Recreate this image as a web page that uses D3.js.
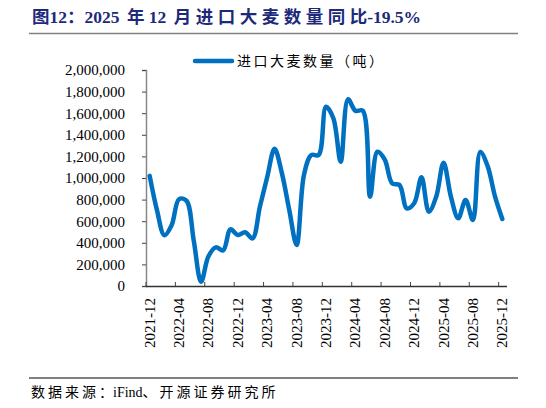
<!DOCTYPE html>
<html lang="zh">
  <head>
    <meta charset="UTF-8" />
    <title>进口大麦数量</title>
    <script src="https://d3js.org/d3.v7.min.js"></script>
    <style>
      body { margin: 0; background: #fff; }
      text, tspan { white-space: pre; }
    </style>
  </head>
  <body>
    <div id="chart"></div>
    <script>
      // months 2021-12 .. 2025-12
      var months = [];
      for (var k = 0; k < 49; k++) {
        var yr = 2021 + Math.floor((11 + k) / 12);
        var mo = ((11 + k) % 12) + 1;
        months.push(yr + "-" + (mo < 10 ? "0" + mo : mo));
      }

      // 进口大麦数量（吨）
      var volumes = [
        1020000, 700000, 470000, 565000, 805000, 790000, 420000, 40000,
        275000, 358000, 330000, 525000, 472000, 497000, 441000, 734000,
        1010000, 1270000, 1043000, 704000, 380000, 1028000, 1213000, 1213000,
        1660000, 1553000, 1151000, 1729000, 1623000, 1623000, 827000, 1243000,
        1170000, 951000, 935000, 719000, 766000, 1006000, 688000, 827000,
        1142000, 827000, 627000, 796000, 611000, 1240000, 1110000, 830000,
        620000,
      ];

      var yTicks = [0, 200000, 400000, 600000, 800000, 1000000, 1200000,
        1400000, 1600000, 1800000, 2000000];

      var seriesName = "进口大麦数量（吨）";

      var width = 546;
      var height = 408;
      var serif = "'Liberation Serif', 'Times New Roman', serif";
      var cjk = "'Noto Sans CJK SC', sans-serif";

      var svg = d3
        .select("#chart")
        .append("svg")
        .attr("width", width)
        .attr("height", height);

      // split a string into CJK / latin runs; CJK chars get extra gap between them
      var cjkRe = /[\u3000-\u9fff\uff00-\uffef]/;
      function mixedText(sel, str, latinSize, cjkSize, gap) {
        var runs = str.match(/[\u3000-\u9fff\uff00-\uffef]+|[^\u3000-\u9fff\uff00-\uffef]+/g);
        runs.forEach(function (r, ri) {
          if (cjkRe.test(r)) {
            var afterSpace = ri > 0 && / $/.test(runs[ri - 1]);
            r.split("").forEach(function (ch, j) {
              sel
                .append("tspan")
                .attr("dx", j > 0 ? gap : afterSpace ? 3 : 0)
                .style("font-family", cjk)
                .style("font-size", cjkSize + "px")
                .text(ch);
            });
          } else {
            sel
              .append("tspan")
              .style("font-family", serif)
              .style("font-size", latinSize + "px")
              .text(r.replace(/ /g, "\u00a0"));
          }
        });
      }

      // title
      var title = svg
        .append("text")
        .attr("x", 32)
        .attr("y", 23)
        .style("font-weight", "bold")
        .attr("fill", "#1d2a7a");
      mixedText(title, "图12：2025 年 12 月进口大麦数量同比-19.5%", 17.5, 17.5, 4.5);

      svg
        .append("line")
        .attr("x1", 29)
        .attr("x2", 518)
        .attr("y1", 33.5)
        .attr("y2", 33.5)
        .attr("stroke", "#808080")
        .attr("stroke-width", 1.5);

      var x = d3
        .scaleBand()
        .domain(months)
        .range([146, 506])
        .paddingInner(0)
        .paddingOuter(0);

      var y = d3.scaleLinear().domain([0, 2000000]).range([286, 70]);

      // y axis
      var yAxis = svg
        .append("g")
        .attr("transform", "translate(146,0)")
        .call(
          d3
            .axisLeft(y)
            .tickValues(yTicks)
            .tickSize(4)
            .tickPadding(17)
            .tickFormat(d3.format(","))
        );
      yAxis.select(".domain").attr("stroke", "#888").attr("stroke-width", 1.5);
      yAxis.selectAll(".tick line").attr("stroke", "#444");
      yAxis
        .selectAll("text")
        .style("font-family", serif)
        .style("font-size", "15px")
        .attr("fill", "#000");

      // x axis: ticks at band starts, every 4 months
      var tickMonths = months.filter(function (d, i) {
        return i % 4 === 0;
      });
      var xg = svg.append("g");
      xg.append("line")
        .attr("x1", 146)
        .attr("x2", 507)
        .attr("y1", 286.5)
        .attr("y2", 286.5)
        .attr("stroke", "#333")
        .attr("stroke-width", 1.3);
      xg.selectAll(".xt")
        .data(tickMonths)
        .enter()
        .append("line")
        .attr("x1", function (d) { return x(d); })
        .attr("x2", function (d) { return x(d); })
        .attr("y1", 286)
        .attr("y2", 282)
        .attr("stroke", "#444");
      xg.selectAll(".xl")
        .data(tickMonths)
        .enter()
        .append("text")
        .attr("transform", function (d) {
          return "translate(" + (x(d) + x.bandwidth() / 2 + 5) + ",298) rotate(-90)";
        })
        .attr("text-anchor", "end")
        .style("font-family", serif)
        .style("font-size", "15px")
        .attr("fill", "#000")
        .text(function (d) { return d; });

      // line
      var line = d3
        .line()
        .x(function (d, i) { return x(months[i]) + x.bandwidth() / 2; })
        .y(function (d) { return y(d); })
        .curve(d3.curveCatmullRom.alpha(0.5));

      svg
        .append("path")
        .datum(volumes)
        .attr("fill", "none")
        .attr("stroke", "#0070c0")
        .attr("stroke-width", 4.5)
        .attr("stroke-linejoin", "round")
        .attr("stroke-linecap", "round")
        .attr("d", line);

      // legend
      svg
        .append("line")
        .attr("x1", 195)
        .attr("x2", 232)
        .attr("y1", 61)
        .attr("y2", 61)
        .attr("stroke", "#0070c0")
        .attr("stroke-width", 4.5)
        .attr("stroke-linecap", "round");
      var leg = svg
        .append("text")
        .attr("x", 237)
        .attr("y", 66)
        .attr("fill", "#000");
      mixedText(leg, seriesName, 14, 14, 2.5);

      // source
      svg
        .append("line")
        .attr("x1", 29)
        .attr("x2", 518)
        .attr("y1", 378)
        .attr("y2", 378)
        .attr("stroke", "#000")
        .attr("stroke-width", 1);
      var src = svg
        .append("text")
        .attr("x", 31)
        .attr("y", 397)
        .attr("fill", "#000");
      mixedText(src, "数据来源：iFind、开源证券研究所", 14, 14, 3);
    </script>
  </body>
</html>
